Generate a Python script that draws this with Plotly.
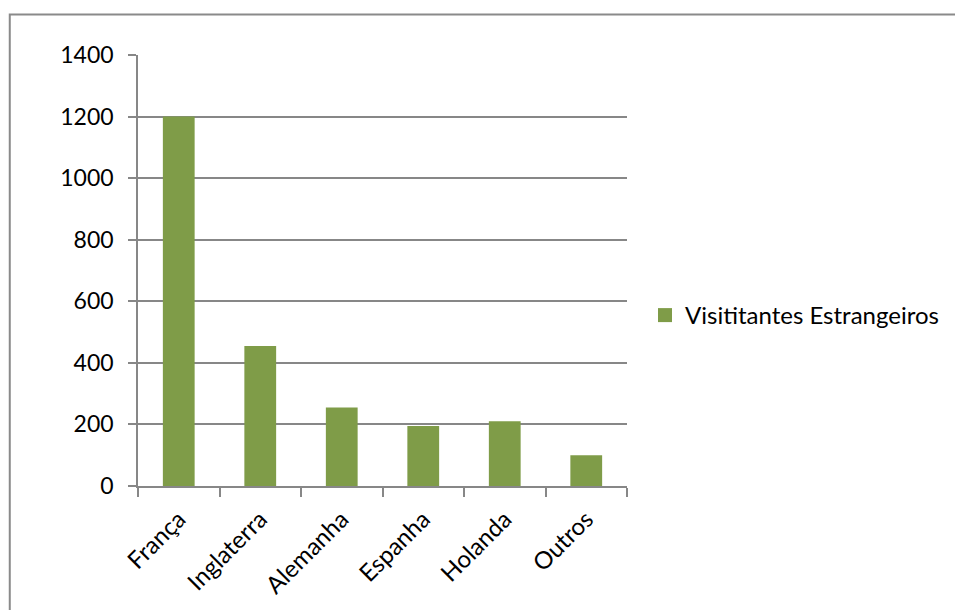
import plotly.graph_objects as go

# Visitantes estrangeiros por país de origem
paises = ["França", "Inglaterra", "Alemanha", "Espanha", "Holanda", "Outros"]
visitantes = [1200, 455, 255, 195, 210, 100]
y_ticks = [0, 200, 400, 600, 800, 1000, 1200, 1400]
serie = "Visititantes Estrangeiros"

BAR = "#7F9C48"
GRID = "#878787"
FONT = "Lato"

fig = go.Figure()
fig.add_trace(go.Bar(
    x=paises,
    y=visitantes,
    name=serie,
    marker=dict(color=BAR, line=dict(width=0)),
    showlegend=False,
))
# entrada de legenda com quadrado maior
fig.add_trace(go.Scatter(
    x=[None], y=[None], mode="markers", name=serie,
    marker=dict(symbol="square", size=14, color=BAR),
    showlegend=True,
))

# moldura da área do gráfico (em coordenadas do papel)
L, R, T, B = 138, 628, 55, 486
W, H = R - L, B - T
def px_x(p):
    return (p - L) / W
def px_y(p):
    return (B - p) / H

fig.add_shape(type="rect", xref="paper", yref="paper",
              x0=px_x(9.5), x1=px_x(965), y0=px_y(14.5), y1=px_y(620),
              line=dict(color="#8A8A8A", width=2), fillcolor="rgba(0,0,0,0)",
              layer="below")

fig.update_layout(
    width=955, height=610,
    margin=dict(l=L, r=955 - R, t=T, b=610 - B),
    paper_bgcolor="white", plot_bgcolor="white",
    bargap=0.61,
    font=dict(family=FONT, size=24, color="black"),
    legend=dict(x=px_x(645), y=px_y(315.5), xanchor="left", yanchor="middle",
                font=dict(family=FONT, size=24, color="black"),
                itemwidth=30, bgcolor="rgba(0,0,0,0)"),
    xaxis=dict(
        showline=True, linecolor=GRID, linewidth=1.5,
        ticks="outside", tickson="boundaries", ticklen=9, tickcolor=GRID, tickwidth=1.5,
        tickangle=-45, showgrid=False,
        tickfont=dict(family=FONT, size=24, color="black"),
        ticklabelstandoff=8,
    ),
    yaxis=dict(
        range=[0, 1400], tickvals=y_ticks,
        showline=True, linecolor=GRID, linewidth=1.5,
        ticks="outside", ticklen=8, tickcolor=GRID, tickwidth=1.5,
        showgrid=True, gridcolor=GRID, gridwidth=1.5,
        zeroline=False,
        tickfont=dict(family=FONT, size=23, color="black"),
        ticklabelstandoff=10,
    ),
)

fig.write_html("out.html")
